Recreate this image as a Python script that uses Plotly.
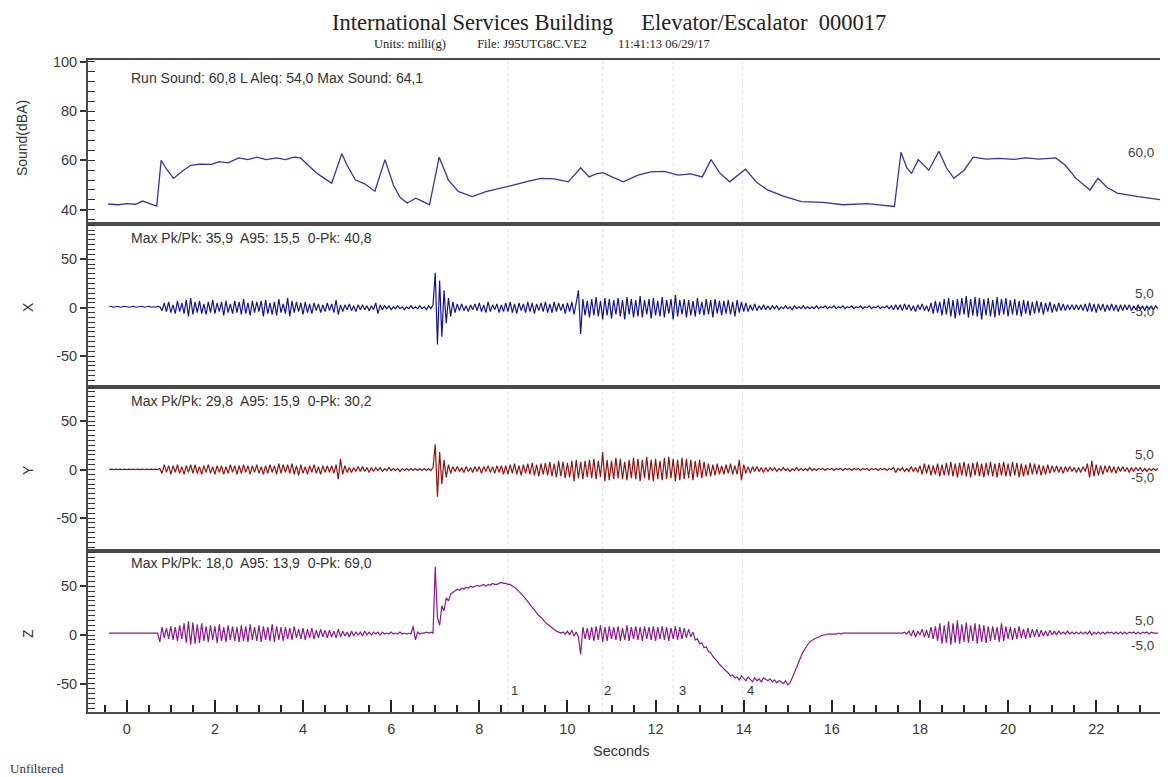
import numpy as np
import plotly.graph_objects as go

# ---------------- data ----------------
sound_t = [-0.42, -0.2, 0.0, 0.2, 0.36, 0.5, 0.68, 0.78, 0.9, 1.06, 1.25, 1.45, 1.65, 1.92, 2.1, 2.3,
           2.54, 2.75, 2.95, 3.17, 3.4, 3.6, 3.8, 3.94, 4.1, 4.3, 4.5, 4.65, 4.88, 5.0, 5.19, 5.4,
           5.63, 5.86, 6.05, 6.2, 6.36, 6.56, 6.7, 6.87, 7.09, 7.3, 7.53, 7.84, 8.15, 8.45, 8.77, 9.1,
           9.4, 9.7, 10.02, 10.3, 10.49, 10.65, 10.8, 11.05, 11.27, 11.6, 11.89, 12.2, 12.51, 12.8,
           13.06, 13.26, 13.45, 13.68, 14.04, 14.3, 14.54, 14.9, 15.31, 15.8, 16.25, 16.8, 17.42,
           17.57, 17.7, 17.81, 17.96, 18.2, 18.43, 18.6, 18.77, 19.0, 19.21, 19.5, 19.8, 20.14, 20.4,
           20.7, 21.08, 21.3, 21.54, 21.86, 22.04, 22.25, 22.48, 22.95, 23.49]
sound_db = [42.3, 42.0, 42.5, 42.2, 43.5, 42.5, 41.5, 60.0, 56.5, 52.7, 55.5, 58.0, 58.5, 58.4, 59.5, 59.0,
            61.0, 60.3, 61.3, 60.3, 61.0, 60.3, 61.3, 61.0, 58.5, 55.0, 52.5, 50.7, 62.7, 58.0, 52.0, 50.5,
            47.5, 60.3, 50.0, 45.0, 42.7, 44.7, 43.5, 42.0, 61.3, 52.0, 47.3, 45.3, 47.3, 48.5, 50.0, 51.5,
            52.7, 52.5, 51.3, 57.0, 53.3, 54.5, 55.0, 53.0, 51.3, 54.0, 55.3, 55.5, 54.0, 54.5,
            53.3, 60.3, 55.0, 51.3, 56.4, 51.0, 48.0, 45.5, 43.3, 43.0, 42.0, 42.5, 41.3,
            63.3, 57.0, 54.7, 60.3, 56.0, 63.7, 57.0, 52.7, 56.0, 61.3, 60.5, 60.8, 60.4, 61.0,
            60.5, 61.0, 58.0, 52.7, 48.0, 52.7, 49.0, 46.7, 45.3, 44.0]

# vibration samples, every 0.05 s starting at -0.4 s (milli-g), one row per second
t_start = -0.4
t_step = 0.05
x_vals = [
    1, 1.5, 0.5, 1, 1.5, 0.5, 1, 1.5, 1, 0.5, 1, 1.5, 0.5, 1, 1, 1.5, 0.5, 1, 1.5, 0.5,
    1, 0.5, 1.5, 1, -3, 5, -4, 6, -5, 3, -6, 7, -4, 5, -6, 8, -9, 10, -7, 6,
    -5, 7, -6, 4, -7, 6, -5, 8, -6, 5, -4, 6, -8, 7, -5, 4, -6, 7, -5, 6,
    -7, 9, -6, 5, -8, 7, -5, 6, -4, 7, -9, 8, -6, 5, -7, 6, -8, 9, -5, 4,
    -6, 10, -9, 7, -5, 6, -4, 5, -7, 6, -5, 4, -6, 5, -3, 4, -5, 3, -4, 5,
    -3, 4, -5, 8, -7, 3, -4, 3, -2, 4, -3, 2, -4, 3, -2, 3, -2, 2, -3, 2,
    -2, 5, -6, 3, -2, 2, -1, 2, -2, 1, -1, 2, -1, 1, -2, 1, -1, 2, -1, 1,
    -1, 2, -1, 1, -2, 2, -1, 3, 36, -38, 28, -30, 18, -16, 10, -9, 6, -5, 4, -3,
    4, -3, 2, -4, 3, -2, 4, -3, 5, -4, 3, -5, 6, -4, 3, -2, 4, -5, 3, -4,
    5, -4, 6, -5, 4, -6, 5, -3, 4, -5, 6, -4, 5, -6, 4, -3, 5, -4, 6, -5,
    4, -5, 6, -4, 5, -3, 4, -6, 5, -4, 6, -7, 5, 18, -27, 9, -8, 7, -10, 9,
    -8, 11, -9, 7, -12, 10, -8, 9, -11, 8, -7, 10, -9, 8, -12, 11, -7, 9, -10, 8,
    -9, 12, -10, 8, -7, 9, -11, 10, -8, 7, -9, 11, -10, 8, -6, 9, -12, 13, -9, 8,
    -7, 9, -10, 8, -8, 7, -9, 10, -7, 6, -8, 9, -7, 8, -10, 9, -6, 7, -8, 7,
    -6, 8, -7, 6, -9, 8, -5, 6, -4, 5, -4, 3, -3, 4, -3, 2, -2, 3, -2, 2,
    -2, 2, -1, 2, -2, 1, -1, 2, -1, 1, -2, 2, -1, 1, -1, 2, -1, 1, -1, 1,
    -1, 2, -1, 1, 0, 2, -1, 1, 0, 2, -1, 1, 0, 2, -1, 1, 0, 2, -1, 1,
    0, 2, -1, 1, 0, 2, -1, 1, 0, 2, -1, 1, 0, 2, -1, 2, -2, 3, -2, 3,
    -3, 4, -2, 3, -3, 2, -4, 3, -2, 4, -3, 2, -4, 5, -6, 7, -5, 6, -8, 9,
    -7, 10, -9, 8, -11, 9, -8, 10, -7, 12, -10, 9, -8, 11, -9, 10, -12, 9, -8, 10,
    -9, 8, -10, 11, -8, 9, -7, 10, -9, 8, -7, 9, -8, 7, -9, 8, -6, 7, -8, 6,
    -6, 7, -5, 6, -7, 5, -4, 6, -5, 4, -4, 5, -3, 4, -3, 3, -2, 3, -2, 3,
    -2, 3, -3, 4, -4, 5, -4, 4, -5, 4, -3, 4, -4, 3, -3, 4, -3, 3, -4, 3,
    -3, 3, -2, 3, -3, 2, -2, 3, -2, 2, -3, 2, -2, 2, -2, 2, -1]
y_vals = [
    0, 0.5, 0, 0.5, 0, 0.5, 0, 0.5, 0, 0.5, 0, 0.5, 0, 0.5, 0, 0.5, 0, 0.5, 0, 0.5,
    0, 0.5, 0, 1, -4, 5, -3, 4, -5, 4, -3, 5, -4, 3, -5, 4, -3, 5, -4, 5,
    -4, 3, -5, 4, -3, 5, -4, 3, -5, 4, -3, 4, -5, 3, -4, 5, -3, 4, -5, 4,
    -4, 5, -3, 4, -5, 4, -3, 5, -4, 3, -5, 4, -4, 5, -3, 4, -5, 6, -4, 5,
    -3, 5, -4, 6, -5, 4, -6, 5, -4, 3, -5, 4, -3, 5, -4, 3, -5, 4, -3, 4,
    -3, 4, -4, 5, -10, 11, -5, 4, -3, 2, -3, 2, -2, 3, -2, 3, -2, 2, -3, 2,
    -2, 2, -1, 2, -2, 1, -1, 2, -1, 1, -1, 1, -2, 1, -1, 1, -1, 1, -1, 1,
    -1, 1, -1, 1, -1, 1, -1, 2, 26, -28, 18, -15, 10, -8, 5, -4, 3, -2, 3, -2,
    2, -3, 3, -2, 2, -3, 3, -2, 3, -4, 3, -2, 4, -3, 3, -4, 4, -3, 4, -5,
    4, -5, 5, -4, 6, -5, 4, -6, 5, -4, 6, -5, 7, -6, 5, -7, 6, -5, 7, -6,
    8, -7, 6, -8, 9, -7, 8, -9, 7, -8, 9, -12, 10, -9, 8, -10, 9, -8, 10, -9,
    11, -10, 9, -8, 18, -12, 10, -11, 9, -10, 12, -9, 11, -10, 8, -11, 10, -9, 12, -10,
    11, -12, 10, -9, 13, -11, 10, -12, 11, -10, 9, -11, 12, -10, 13, -9, 11, -12, 10, -11,
    12, -10, 11, -9, 10, -11, 9, -8, 10, -9, 8, -7, 6, -7, 5, -6, 6, -5, 4, -5,
    5, -4, 6, -5, 4, -5, 10, -11, 5, -4, 3, -4, 3, -2, 3, -2, 2, -3, 2, -2,
    2, -1, 2, -2, 1, -1, 2, -1, 1, -2, 1, -1, 2, -1, 1, -1, 1, -1, 2, -1,
    1, -1, 1, 0, 1, -1, 1, 0, 1, -1, 1, 0, 1, -1, 1, 0, 1, -1, 1, 0,
    1, -1, 1, 0, 1, -1, 1, 0, 1, -1, 1, 0, 1, -1, 1, 0, 2, -3, 1, -1,
    2, -2, 1, -2, 3, -2, 2, -3, 4, -5, 6, -4, 5, -6, 4, -5, 6, -7, 5, -6,
    7, -6, 8, -7, 6, -8, 7, -6, 8, -7, 6, -8, 7, -6, 8, -7, 6, -8, 7, -6,
    8, -7, 6, -8, 7, -6, 8, -7, 6, -7, 8, -6, 7, -8, 6, -7, 5, -6, 7, -5,
    6, -5, 5, -6, 4, -5, 5, -4, 4, -3, 4, -3, 3, -4, 3, -2, 3, -2, 2, -3,
    2, -3, 3, -2, 6, -8, 9, -7, 5, -6, 4, -5, 4, -3, 4, -3, 3, -4, 3, -2,
    3, -2, 2, -3, 2, -2, 2, -1, 2, -2, 1, -2, 1, -1, 1, -1, 1]
z_vals = [
    2, 2, 2, 2, 2, 2, 2, 2, 2, 2, 2, 2, 2, 2, 2, 2, 2, 2, 2, 2,
    2, 2, 2, -7, 8, -3, 7, -4, 9, -5, 8, -6, 10, -4, 12, -8, 14, -10, 13, -9,
    11, -8, 12, -6, 9, -7, 10, -5, 9, -8, 11, -6, 8, -7, 10, -5, 9, -6, 8, -7,
    10, -6, 9, -7, 11, -5, 8, -6, 10, -7, 9, -5, 8, -6, 11, -7, 9, -5, 8, -6,
    8, -4, 7, -5, 9, -3, 6, -4, 7, -5, 6, -3, 7, -4, 5, -3, 6, -2, 5, -3,
    5, -2, 4, -3, 6, -2, 4, -1, 3, -2, 4, -1, 3, 0, 3, -1, 4, 0, 3, 0,
    3, 1, 3, 0, 3, 1, 2, 1, 3, 1, 2, 1, 3, 1, 2, 1, 2, 1, 9, -5,
    3, 1, 2, 2, 3, 2, 3, 2, 70, 18, 10, 30, 25, 38, 35, 42, 44, 45, 47, 46,
    48, 47, 49, 48, 50, 49, 50, 51, 50, 51, 52, 50, 52, 51, 53, 52, 52, 53, 54, 53,
    53, 52, 52, 50, 49, 47, 45, 42, 40, 37, 34, 31, 29, 26, 23, 20, 18, 15, 13, 11,
    9, 7, 6, 4, 3, 2, 3, 1, 4, 0, 5, -1, 3, -2, -20, 8, -4, 7, -5, 8,
    -6, 9, -5, 10, -7, 8, -6, 9, -4, 8, -5, 9, -6, 7, -5, 10, -6, 8, -4, 9,
    -5, 8, -6, 9, -4, 8, -5, 9, -6, 8, -4, 9, -5, 8, -6, 7, -4, 9, -5, 8,
    -4, 7, -3, 6, -2, 3, -5, -4, -9, -8, -13, -12, -17, -18, -22, -24, -27, -30, -32, -35,
    -37, -39, -42, -41, -44, -43, -46, -42, -45, -47, -43, -46, -48, -44, -47, -45, -48, -44, -46, -47,
    -45, -48, -46, -49, -47, -48, -50, -47, -51, -49, -44, -38, -32, -27, -22, -17, -13, -10, -7, -5,
    -4, -3, -2, -1, 0, 0, 1, 1, 1, 1, 1, 2, 1, 2, 2, 2, 2, 2, 2, 2,
    2, 2, 2, 2, 2, 2, 2, 2, 2, 2, 2, 2, 2, 2, 2, 2, 2, 2, 2, 2,
    2, 3, 1, 4, -1, 5, -2, 4, 0, 6, -2, 5, -3, 8, -4, 9, -6, 12, -9, 10,
    -8, 14, -10, 12, -8, 15, -9, 11, -7, 13, -8, 10, -6, 12, -9, 11, -7, 10, -8, 9,
    -6, 9, -5, 8, -7, 12, -6, 9, -4, 8, -5, 7, -4, 9, -3, 6, -4, 7, -3, 6,
    -2, 6, -2, 5, -1, 4, -1, 5, 0, 4, 0, 4, 1, 3, 1, 4, 1, 3, 1, 3,
    1, 3, 1, 3, 1, 4, 0, 3, 1, 3, 1, 3, 1, 3, 2, 3, 1, 3, 1, 3,
    1, 3, 1, 3, 2, 3, 1, 3, 1, 3, 2, 3, 1, 3, 2, 2, 2]

event_times = [8.65, 10.8, 12.4, 13.97]
event_labels = ["1", "2", "3", "4"]
event_label_times = [8.79, 10.92, 12.6, 14.16]

panel_stats = ["Run Sound: 60,8 L Aleq: 54,0 Max Sound: 64,1",
               "Max Pk/Pk: 35,9  A95: 15,5  0-Pk: 40,8",
               "Max Pk/Pk: 29,8  A95: 15,9  0-Pk: 30,2",
               "Max Pk/Pk: 18,0  A95: 13,9  0-Pk: 69,0"]
panel_titles = ["Sound(dBA)", "X", "Y", "Z"]
x_range = [-0.88, 23.47]
x_tick_vals = [0, 2, 4, 6, 8, 10, 12, 14, 16, 18, 20, 22]
sound_tick_vals = [40, 60, 80, 100]
vib_tick_vals = [-50, 0, 50]
vib_tick_text = ["-50", "0", "50"]

# ---------------- layout helpers ----------------
# page body has an 8px margin, so the figure is 8px smaller and all reference
# pixel positions are shifted by 8px
OFF = 8
W, H = 1168 - OFF, 777 - OFF
ML, MT = 88 - OFF, 60 - OFF
MR = W - (1163 - OFF)
MB = H - (712 - OFF)
PH = H - MT - MB
PW = W - ML - MR


def py(ref_y):  # reference pixel y -> paper y
    return (H - MB - (ref_y - OFF)) / PH


def px(ref_x):  # reference pixel x -> paper x
    return (ref_x - OFF - ML) / PW


bounds = [60, 224, 386.7, 551, 712]
domains = [[py(bounds[i + 1]), py(bounds[i])] for i in range(4)]
domains[0][1] = 1.0
domains[3][0] = 0.0


def vib_time(vals):
    return t_start + t_step * np.arange(len(vals))


fig = go.Figure()
fig.add_trace(go.Scatter(x=sound_t, y=sound_db, mode="lines", line=dict(color="#35359a", width=1.3),
                         xaxis="x", yaxis="y", hoverinfo="skip"))
fig.add_trace(go.Scatter(x=vib_time(x_vals), y=x_vals, mode="lines", line=dict(color="#15158a", width=1.2),
                         xaxis="x2", yaxis="y2", hoverinfo="skip"))
fig.add_trace(go.Scatter(x=vib_time(y_vals), y=y_vals, mode="lines", line=dict(color="#8c1414", width=1.2),
                         xaxis="x3", yaxis="y3", hoverinfo="skip"))
fig.add_trace(go.Scatter(x=vib_time(z_vals), y=z_vals, mode="lines", line=dict(color="#8a1a8c", width=1.2),
                         xaxis="x4", yaxis="y4", hoverinfo="skip"))

SANS = "Liberation Sans, Arial, sans-serif"
SERIF = "Liberation Serif, Times New Roman, serif"
font_tick = dict(family=SANS, size=14.5, color="#3a3a3a")
axcol = "#4a4a4a"

layout = dict(
    width=W, height=H,
    margin=dict(l=ML, r=MR, t=MT, b=MB),
    paper_bgcolor="white", plot_bgcolor="white",
    showlegend=False,
    font=font_tick,
)

y_ranges = [[34.2, 100.7], [-81.4, 86.3], [-84.0, 85.4], [-79.0, 86.2]]
y_minor = [4, 5, 5, 5]

for i in range(4):
    sx = "" if i == 0 else str(i + 1)
    xa = dict(domain=[0, 1], anchor="y" + sx, range=x_range, showgrid=False, zeroline=False,
              showline=True, mirror=True, linecolor=axcol, linewidth=2)
    if i > 0:
        xa["matches"] = "x"
    if i == 3:
        xa.update(tickmode="array", tickvals=x_tick_vals, ticks="inside", ticklen=12,
                  tickwidth=2, tickcolor="#222", ticklabelstandoff=3,
                  minor=dict(dtick=0.5, tick0=0, ticks="inside", ticklen=7, tickwidth=1.5, tickcolor="#222"))
    else:
        xa.update(showticklabels=False, ticks="")
    if i == 0:
        tv, tt = sound_tick_vals, [str(v) for v in sound_tick_vals]
    else:
        tv, tt = vib_tick_vals, vib_tick_text
    ya = dict(domain=domains[i], anchor="x" + sx, range=y_ranges[i], showgrid=False, zeroline=False,
              showline=True, mirror=True, linecolor=axcol, linewidth=2,
              tickmode="array", tickvals=tv, ticktext=tt, ticks="outside", ticklen=6, tickwidth=1.5,
              tickcolor="#333",
              minor=dict(dtick=y_minor[i], tick0=0, ticks="inside", ticklen=7, tickwidth=1.2,
                         tickcolor="#333"))
    layout["xaxis" + sx] = xa
    layout["yaxis" + sx] = ya

fig.update_layout(**layout)

# event marker dotted lines
for et in event_times:
    fig.add_shape(type="line", xref="x4", yref="paper", x0=et, x1=et, y0=0, y1=1,
                  line=dict(color="#e2e2e2", width=1, dash="dot"), layer="below")

ann = []
stat_y = [78, 238, 401, 563]
for i in range(4):
    ann.append(dict(text=panel_stats[i], xref="paper", yref="paper", x=px(129), y=py(stat_y[i]),
                    xanchor="left", yanchor="middle", showarrow=False,
                    font=dict(family=SANS, size=14, color="#333")))

title_x = [22, 28, 28, 28]
title_y = [138, 307, 470, 634]
for i in range(4):
    ann.append(dict(text=panel_titles[i], xref="paper", yref="paper", x=px(title_x[i]), y=py(title_y[i]),
                    xanchor="center", yanchor="middle", textangle=-90, showarrow=False,
                    font=dict(family=SANS, size=14, color="#333")))

right_labels = [("60,0", 153), ("5,0", 293), ("-5,0", 311), ("5,0", 455), ("-5,0", 477),
                ("5,0", 620), ("-5,0", 645)]
for txt, yy in right_labels:
    ann.append(dict(text=txt, xref="paper", yref="paper", x=px(1158), y=py(yy), xanchor="right",
                    yanchor="middle", showarrow=False,
                    font=dict(family=SANS, size=13.5, color="#444")))

for lab, lt in zip(event_labels, event_label_times):
    ann.append(dict(text=lab, xref="x4", yref="paper", x=lt, y=py(690), xanchor="center",
                    yanchor="middle", showarrow=False,
                    font=dict(family=SANS, size=13, color="#333")))

ann.append(dict(text="International Services Building&nbsp;&nbsp;&nbsp;&nbsp;&nbsp;Elevator/Escalator&nbsp;&nbsp;000017",
                xref="paper", yref="paper", x=px(610), y=py(OFF), xanchor="center", yanchor="top",
                showarrow=False, font=dict(family=SERIF, size=22.5, color="#222")))
ann.append(dict(text="Units: milli(g)" + "&nbsp;" * 10 + "File: J95UTG8C.VE2" + "&nbsp;" * 10 + "11:41:13 06/29/17",
                xref="paper", yref="paper", x=px(543), y=py(44), xanchor="center", yanchor="middle",
                showarrow=False, font=dict(family=SERIF, size=12.5, color="#222")))
ann.append(dict(text="Seconds", xref="paper", yref="paper", x=px(622), y=py(751), xanchor="center",
                yanchor="middle", showarrow=False, font=dict(family=SANS, size=14.5, color="#333")))
ann.append(dict(text="Unfiltered", xref="paper", yref="paper", x=px(8), y=py(768), xanchor="left",
                yanchor="middle", showarrow=False, font=dict(family=SERIF, size=13, color="#333")))

fig.update_layout(annotations=ann)
fig.write_html("out.html")
